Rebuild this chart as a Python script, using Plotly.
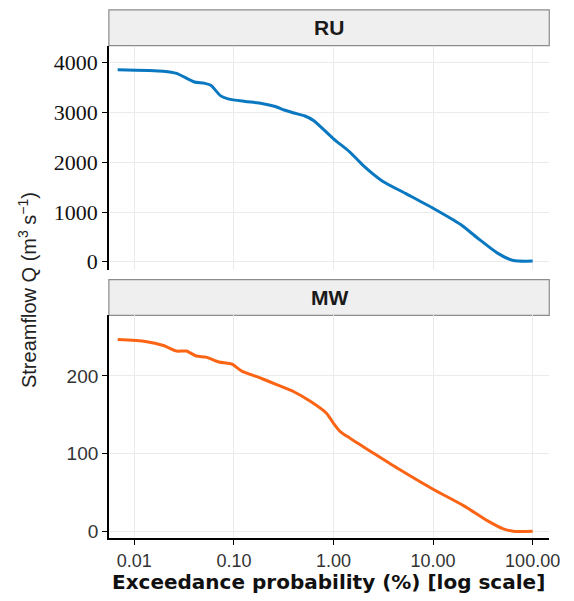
import plotly.graph_objects as go
from plotly.subplots import make_subplots

# Data (exceedance probability %, streamflow m3/s)
ru_exceed = [0.0068, 0.0196, 0.0266, 0.040, 0.050, 0.0586, 0.0736, 0.089, 0.13, 0.19, 0.26, 0.32,
             0.40, 0.51, 0.635, 1.0, 1.46, 1.98, 3.11, 5.27, 10, 19.1, 27.9, 44, 64, 100]
ru_flow = [3860, 3830, 3785, 3612, 3590, 3546, 3333, 3267, 3221, 3181, 3120, 3050,
           2990, 2934, 2835, 2470, 2205, 1938, 1620, 1375, 1076, 743, 478, 179, 26, 14]

mw_exceed = [0.0068, 0.0129, 0.0196, 0.0266, 0.0333, 0.0418, 0.0524, 0.0707, 0.096, 0.12, 0.19,
             0.277, 0.40, 0.59, 0.85, 1.0, 1.16, 1.46, 1.84, 2.5, 4.57, 10, 20.4, 35, 50.8, 64, 100]
mw_flow = [246.7, 244.2, 239, 231.8, 231.8, 225.5, 224, 217.8, 214.9, 206, 196.6,
           188, 179.6, 167, 152, 139, 128.7, 120, 111.7, 101, 80, 54.4, 33, 14, 3.4, 0.4, 0.4]

panels = ["RU", "MW"]
x_tickvals = [0.01, 0.1, 1, 10, 100]
x_ticktext = ["0.01", "0.10", "1.00", "10.00", "100.00"]
ru_ticks = [0, 1000, 2000, 3000, 4000]
mw_ticks = [0, 100, 200]

W, H = 574, 601
def px_x(p): return p / W
def px_y(p): return 1 - p / H

fig = make_subplots(rows=2, cols=1)
fig.add_trace(go.Scatter(x=ru_exceed, y=ru_flow, mode="lines", line_shape="spline",
                         line=dict(color="#0A78C0", width=3, smoothing=0.6), showlegend=False), row=1, col=1)
fig.add_trace(go.Scatter(x=mw_exceed, y=mw_flow, mode="lines", line_shape="spline",
                         line=dict(color="#FA6414", width=3, smoothing=0.6), showlegend=False), row=2, col=1)

xdom = [px_x(111), px_x(560)]
xr = [-2.256, 2.167]
grid = "#EBEBEB"
fig.update_layout(
    width=W, height=H, margin=dict(l=0, r=0, t=0, b=0),
    plot_bgcolor="white", paper_bgcolor="white",
    xaxis=dict(type="log", domain=xdom, range=xr, tickvals=x_tickvals, ticktext=x_ticktext,
               showticklabels=False, ticks="", showline=False, showgrid=True,
               gridcolor=grid, gridwidth=1, zeroline=False, anchor="y"),
    yaxis=dict(domain=[px_y(272), px_y(46)], range=[-160, 4343], tickvals=ru_ticks,
               showline=True, linecolor="black", linewidth=1.6, ticks="outside",
               ticklen=5, tickcolor="black", tickwidth=1.3, showgrid=True, gridcolor=grid,
               zeroline=False, tickfont=dict(family="Liberation Serif", size=22, color="#111")),
    xaxis2=dict(type="log", domain=xdom, range=xr, tickvals=x_tickvals, ticktext=x_ticktext,
                showline=True, linecolor="black", linewidth=1.6, ticks="outside", ticklen=5,
                tickcolor="black", tickwidth=1.3, showgrid=True, gridcolor=grid, zeroline=False,
                tickfont=dict(family="Liberation Sans", size=18, color="#333"), anchor="y2"),
    yaxis2=dict(domain=[px_y(543), px_y(318)], range=[-8.9, 277.7], tickvals=mw_ticks,
                showline=True, linecolor="black", linewidth=1.6, ticks="outside",
                ticklen=5, tickcolor="black", tickwidth=1.3, showgrid=True, gridcolor=grid,
                zeroline=False, tickfont=dict(family="Liberation Sans", size=19, color="#333")),
)

# Facet strips
strips = [(10, 46), (282, 318)]
for name, (t, b) in zip(panels, strips):
    fig.add_shape(type="rect", xref="paper", yref="paper", x0=px_x(111), x1=px_x(560),
                  y0=px_y(b), y1=px_y(t), fillcolor="#EFEFEF",
                  line=dict(color="#8C8C8C", width=1.2), layer="below")
    fig.add_annotation(text="<b>" + name + "</b>", xref="paper", yref="paper",
                       x=px_x(335.5), y=px_y((t + b) / 2), showarrow=False,
                       font=dict(family="Liberation Sans", size=21, color="#1A1A1A"),
                       xanchor="center", yanchor="middle")

# Axis titles
fig.add_annotation(text="<b>Exceedance probability (%) [log scale]</b>", xref="paper", yref="paper",
                   x=px_x(335), y=px_y(587), showarrow=False, xanchor="center", yanchor="middle",
                   font=dict(family="DejaVu Sans", size=20, color="#111"))
fig.add_annotation(text="Streamflow Q (m<sup>3</sup> s<sup>\u22121</sup>)", xref="paper", yref="paper",
                   x=px_x(28), y=px_y(292), showarrow=False, textangle=-90,
                   xanchor="center", yanchor="middle",
                   font=dict(family="Liberation Sans", size=20, color="#222"))

fig.write_html("out.html")
